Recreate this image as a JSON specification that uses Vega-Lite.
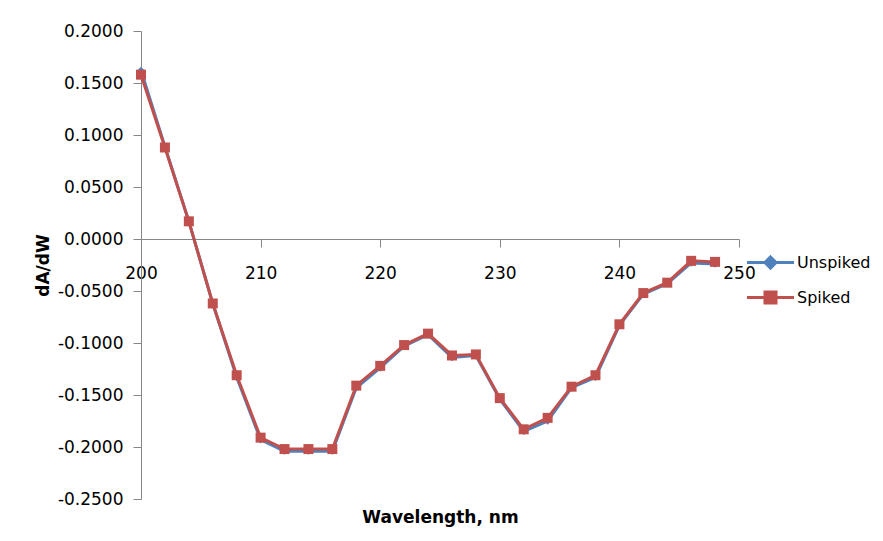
{
  "$schema": "https://vega.github.io/schema/vega-lite/v6.json",
  "width": 598,
  "height": 468,
  "autosize": "none",
  "padding": {"left": 141, "top": 31, "right": 144, "bottom": 42},
  "background": "white",
  "config": {
    "view": {"stroke": null},
    "font": "DejaVu Sans",
    "axis": {"grid": false, "domainColor": "#868686", "tickColor": "#868686", "labelColor": "#000000", "titleColor": "#000000", "labelFont": "DejaVu Sans", "titleFont": "DejaVu Sans", "labelFontSize": 17, "titleFontSize": 17, "titleFontWeight": "bold", "domainWidth": 1, "tickWidth": 1, "tickSize": 8}
  },
  "data": {"values": [
    {"w": 200, "series": "Unspiked", "v": 0.162}, {"w": 200, "series": "Spiked", "v": 0.158},
    {"w": 202, "series": "Unspiked", "v": 0.089}, {"w": 202, "series": "Spiked", "v": 0.088},
    {"w": 204, "series": "Unspiked", "v": 0.017}, {"w": 204, "series": "Spiked", "v": 0.017},
    {"w": 206, "series": "Unspiked", "v": -0.062}, {"w": 206, "series": "Spiked", "v": -0.062},
    {"w": 208, "series": "Unspiked", "v": -0.133}, {"w": 208, "series": "Spiked", "v": -0.131},
    {"w": 210, "series": "Unspiked", "v": -0.193}, {"w": 210, "series": "Spiked", "v": -0.191},
    {"w": 212, "series": "Unspiked", "v": -0.204}, {"w": 212, "series": "Spiked", "v": -0.202},
    {"w": 214, "series": "Unspiked", "v": -0.204}, {"w": 214, "series": "Spiked", "v": -0.202},
    {"w": 216, "series": "Unspiked", "v": -0.204}, {"w": 216, "series": "Spiked", "v": -0.202},
    {"w": 218, "series": "Unspiked", "v": -0.143}, {"w": 218, "series": "Spiked", "v": -0.141},
    {"w": 220, "series": "Unspiked", "v": -0.124}, {"w": 220, "series": "Spiked", "v": -0.122},
    {"w": 222, "series": "Unspiked", "v": -0.103}, {"w": 222, "series": "Spiked", "v": -0.102},
    {"w": 224, "series": "Unspiked", "v": -0.092}, {"w": 224, "series": "Spiked", "v": -0.091},
    {"w": 226, "series": "Unspiked", "v": -0.114}, {"w": 226, "series": "Spiked", "v": -0.112},
    {"w": 228, "series": "Unspiked", "v": -0.112}, {"w": 228, "series": "Spiked", "v": -0.111},
    {"w": 230, "series": "Unspiked", "v": -0.154}, {"w": 230, "series": "Spiked", "v": -0.153},
    {"w": 232, "series": "Unspiked", "v": -0.185}, {"w": 232, "series": "Spiked", "v": -0.183},
    {"w": 234, "series": "Unspiked", "v": -0.175}, {"w": 234, "series": "Spiked", "v": -0.172},
    {"w": 236, "series": "Unspiked", "v": -0.143}, {"w": 236, "series": "Spiked", "v": -0.142},
    {"w": 238, "series": "Unspiked", "v": -0.133}, {"w": 238, "series": "Spiked", "v": -0.131},
    {"w": 240, "series": "Unspiked", "v": -0.083}, {"w": 240, "series": "Spiked", "v": -0.082},
    {"w": 242, "series": "Unspiked", "v": -0.053}, {"w": 242, "series": "Spiked", "v": -0.052},
    {"w": 244, "series": "Unspiked", "v": -0.043}, {"w": 244, "series": "Spiked", "v": -0.042},
    {"w": 246, "series": "Unspiked", "v": -0.023}, {"w": 246, "series": "Spiked", "v": -0.021},
    {"w": 248, "series": "Unspiked", "v": -0.024}, {"w": 248, "series": "Spiked", "v": -0.022}
  ]},
  "encoding": {
    "x": {"field": "w", "type": "quantitative", "scale": {"domain": [200, 250], "nice": false, "zero": false},
      "axis": {"title": "Wavelength, nm", "values": [200, 210, 220, 230, 240, 250], "offset": -260, "labelPadding": 18, "titlePadding": 228, "labelFlush": false}},
    "y": {"field": "v", "type": "quantitative", "scale": {"domain": [-0.25, 0.2], "nice": false, "zero": false},
      "axis": {"title": "dA/dW", "values": [-0.25, -0.2, -0.15, -0.1, -0.05, 0, 0.05, 0.1, 0.15, 0.2], "labelExpr": "replace(format(datum.value, '.4f'), '\u2212', '-')", "labelPadding": 10, "titlePadding": 5}},
    "color": {"field": "series", "type": "nominal", "scale": {"domain": ["Unspiked", "Spiked"], "range": ["#4F81BD", "#C0504D"]},
      "legend": {"title": null, "orient": "none", "legendX": 616, "legendY": 218, "padding": 0, "symbolSize": 552, "rowPadding": 9, "labelOffset": 13, "labelFontSize": 16, "labelFont": "DejaVu Sans", "labelColor": "#000000",
        "encode": {"symbols": {"update": {
          "shape": {"signal": "datum.value === 'Unspiked' ? 'M-2,0H2M0,-0.47L0.47,0L0,0.47L-0.47,0Z' : 'M-2,0H2M-0.47,-0.47H0.47V0.47H-0.47Z'"},
          "fill": {"signal": "scale('color', datum.value)"},
          "stroke": {"signal": "scale('color', datum.value)"},
          "strokeWidth": {"value": 3},
          "opacity": {"value": 1},
          "fillOpacity": {"value": 1}
        }}}}}
  },
  "layer": [
    {"transform": [{"filter": "datum.series === 'Unspiked'"}], "mark": {"type": "line", "strokeWidth": 3}},
    {"transform": [{"filter": "datum.series === 'Unspiked'"}], "mark": {"type": "point", "shape": "diamond", "filled": true, "size": 55, "opacity": 1}},
    {"transform": [{"filter": "datum.series === 'Spiked'"}], "mark": {"type": "line", "strokeWidth": 3}},
    {"transform": [{"filter": "datum.series === 'Spiked'"}], "mark": {"type": "point", "shape": "square", "filled": true, "size": 100, "opacity": 1}}
  ]
}
